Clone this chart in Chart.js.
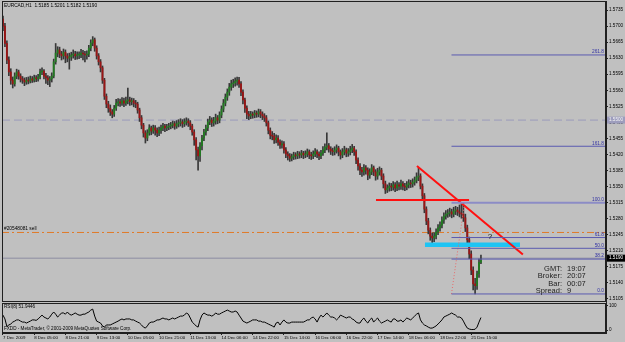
<!DOCTYPE html>
<html><head><meta charset="utf-8">
<script src="https://cdn.jsdelivr.net/npm/chart.js@4.4.1/dist/chart.umd.min.js"></script>
<style>
html,body{margin:0;padding:0;background:#c0c0c0;width:625px;height:342px;overflow:hidden;}
#wrapMain{position:absolute;left:0;top:0;width:625px;height:303px;}
#wrapRsi{position:absolute;left:0;top:303px;width:625px;height:39px;}
canvas{display:block;}
</style></head><body>
<div id="wrapMain"><canvas id="main" width="625" height="303"></canvas></div>
<div id="wrapRsi"><canvas id="rsi" width="625" height="39"></canvas></div>
<script>
// ---------------- DATA ----------------
const chartTitle = 'EURCAD,H1  1.5185 1.5201 1.5182 1.5190';
const timeLabels = ['7 Dec 2009','8 Dec 05:00','8 Dec 21:00','9 Dec 13:00','10 Dec 05:00','10 Dec 21:00','11 Dec 13:00','14 Dec 06:00','14 Dec 22:00','15 Dec 14:00','16 Dec 06:00','16 Dec 22:00','17 Dec 14:00','18 Dec 06:00','18 Dec 22:00','21 Dec 15:00'];
const barsPerLabel = 16;
const priceTicks = [1.5105,1.5140,1.5175,1.5210,1.5245,1.5280,1.5315,1.5350,1.5385,1.5420,1.5455,1.5490,1.5525,1.5560,1.5595,1.5630,1.5665,1.5700,1.5735];
const rsiTicks = [0, 100];
const firstOpen = 1.5715;
const closes = [
1.5700,1.5662,1.5626,1.5600,1.5582,1.5574,1.5591,1.5600,1.5591,1.5585,
1.5582,1.5578,1.5582,1.5580,1.5585,1.5582,1.5587,1.5585,1.5589,1.5600,
1.5602,1.5591,1.5587,1.5582,1.5585,1.5591,1.5622,1.5641,1.5648,1.5639,
1.5635,1.5643,1.5635,1.5630,1.5633,1.5637,1.5639,1.5635,1.5637,1.5637,
1.5641,1.5639,1.5637,1.5639,1.5652,1.5663,1.5670,1.5652,1.5635,1.5622,
1.5609,1.5582,1.5547,1.5530,1.5521,1.5513,1.5508,1.5521,1.5532,1.5535,
1.5532,1.5537,1.5532,1.5537,1.5539,1.5535,1.5537,1.5532,1.5530,1.5517,
1.5500,1.5484,1.5467,1.5456,1.5467,1.5478,1.5471,1.5478,1.5473,1.5467,
1.5473,1.5478,1.5482,1.5478,1.5480,1.5482,1.5484,1.5487,1.5482,1.5487,
1.5489,1.5491,1.5487,1.5491,1.5493,1.5489,1.5482,1.5469,1.5452,1.5430,
1.5417,1.5439,1.5456,1.5469,1.5478,1.5491,1.5495,1.5489,1.5493,1.5500,
1.5495,1.5506,1.5519,1.5532,1.5545,1.5556,1.5567,1.5574,1.5576,1.5580,
1.5582,1.5574,1.5556,1.5539,1.5521,1.5508,1.5504,1.5508,1.5506,1.5510,
1.5508,1.5513,1.5508,1.5504,1.5500,1.5489,1.5473,1.5462,1.5460,1.5452,
1.5456,1.5447,1.5441,1.5443,1.5430,1.5421,1.5417,1.5412,1.5415,1.5419,
1.5417,1.5421,1.5419,1.5423,1.5419,1.5421,1.5426,1.5419,1.5417,1.5421,
1.5426,1.5421,1.5417,1.5423,1.5430,1.5436,1.5439,1.5432,1.5428,1.5426,
1.5430,1.5434,1.5426,1.5419,1.5426,1.5430,1.5423,1.5426,1.5430,1.5434,
1.5426,1.5408,1.5395,1.5386,1.5382,1.5391,1.5386,1.5375,1.5382,1.5391,
1.5382,1.5373,1.5382,1.5386,1.5373,1.5356,1.5343,1.5347,1.5351,1.5349,
1.5354,1.5347,1.5354,1.5351,1.5356,1.5351,1.5349,1.5354,1.5358,1.5356,
1.5360,1.5364,1.5371,1.5373,1.5351,1.5330,1.5301,1.5275,1.5255,1.5242,
1.5238,1.5242,1.5251,1.5260,1.5266,1.5277,1.5286,1.5290,1.5292,1.5295,
1.5290,1.5297,1.5299,1.5295,1.5292,1.5290,1.5282,1.5260,1.5234,1.5203,
1.5168,1.5138,1.5134,1.5160,1.5185,1.5190];
const highs = [
1.5722,1.5706,1.5668,1.5633,1.5607,1.5589,1.5598,1.5606,1.5604,1.5596,
1.5590,1.5587,1.5588,1.5589,1.5591,1.5590,1.5593,1.5592,1.5595,1.5606,
1.5609,1.5605,1.5597,1.5592,1.5590,1.5598,1.5628,1.5662,1.5655,1.5654,
1.5645,1.5650,1.5648,1.5640,1.5641,1.5643,1.5648,1.5645,1.5644,1.5644,
1.5649,1.5647,1.5645,1.5646,1.5658,1.5670,1.5677,1.5674,1.5657,1.5640,
1.5627,1.5613,1.5586,1.5552,1.5536,1.5528,1.5518,1.5527,1.5540,1.5542,
1.5541,1.5544,1.5543,1.5545,1.5565,1.5545,1.5543,1.5542,1.5538,1.5534,
1.5521,1.5505,1.5488,1.5472,1.5474,1.5485,1.5482,1.5484,1.5483,1.5478,
1.5480,1.5484,1.5488,1.5486,1.5486,1.5488,1.5490,1.5493,1.5492,1.5494,
1.5496,1.5498,1.5496,1.5498,1.5500,1.5498,1.5494,1.5486,1.5474,1.5457,
1.5436,1.5446,1.5462,1.5475,1.5484,1.5497,1.5503,1.5500,1.5501,1.5508,
1.5505,1.5513,1.5526,1.5540,1.5552,1.5563,1.5575,1.5582,1.5584,1.5587,
1.5589,1.5588,1.5579,1.5561,1.5543,1.5526,1.5514,1.5514,1.5513,1.5516,
1.5515,1.5519,1.5518,1.5513,1.5509,1.5505,1.5493,1.5478,1.5470,1.5466,
1.5463,1.5461,1.5452,1.5450,1.5448,1.5435,1.5426,1.5422,1.5421,1.5425,
1.5424,1.5427,1.5426,1.5429,1.5427,1.5428,1.5432,1.5430,1.5425,1.5428,
1.5433,1.5430,1.5426,1.5429,1.5437,1.5443,1.5467,1.5444,1.5437,1.5434,
1.5437,1.5441,1.5438,1.5430,1.5433,1.5438,1.5434,1.5433,1.5438,1.5442,
1.5438,1.5430,1.5413,1.5400,1.5392,1.5398,1.5396,1.5391,1.5389,1.5398,
1.5395,1.5387,1.5390,1.5393,1.5390,1.5378,1.5362,1.5354,1.5358,1.5357,
1.5361,1.5359,1.5362,1.5359,1.5364,1.5361,1.5357,1.5361,1.5365,1.5364,
1.5367,1.5371,1.5380,1.5390,1.5378,1.5356,1.5335,1.5306,1.5281,1.5260,
1.5249,1.5250,1.5258,1.5267,1.5273,1.5284,1.5293,1.5298,1.5300,1.5303,
1.5301,1.5305,1.5307,1.5305,1.5310,1.5312,1.5315,1.5290,1.5266,1.5240,
1.5210,1.5175,1.5150,1.5166,1.5192,1.5201];
const lows = [
1.5690,1.5655,1.5618,1.5592,1.5573,1.5565,1.5569,1.5585,1.5584,1.5578,
1.5575,1.5570,1.5573,1.5574,1.5576,1.5577,1.5578,1.5579,1.5580,1.5585,
1.5594,1.5585,1.5575,1.5572,1.5568,1.5578,1.5587,1.5617,1.5633,1.5631,
1.5626,1.5628,1.5620,1.5622,1.5606,1.5625,1.5630,1.5627,1.5628,1.5629,
1.5631,1.5626,1.5622,1.5628,1.5633,1.5646,1.5657,1.5645,1.5628,1.5615,
1.5600,1.5575,1.5540,1.5522,1.5512,1.5505,1.5500,1.5503,1.5516,1.5526,
1.5525,1.5527,1.5524,1.5527,1.5530,1.5527,1.5528,1.5524,1.5522,1.5510,
1.5492,1.5476,1.5458,1.5445,1.5450,1.5462,1.5463,1.5466,1.5462,1.5459,
1.5461,1.5466,1.5472,1.5470,1.5472,1.5474,1.5476,1.5478,1.5475,1.5477,
1.5480,1.5482,1.5479,1.5481,1.5484,1.5481,1.5474,1.5462,1.5440,1.5408,
1.5386,1.5405,1.5430,1.5450,1.5462,1.5472,1.5485,1.5481,1.5482,1.5486,
1.5487,1.5489,1.5500,1.5513,1.5526,1.5538,1.5549,1.5560,1.5566,1.5569,
1.5571,1.5566,1.5548,1.5530,1.5512,1.5498,1.5496,1.5498,1.5499,1.5500,
1.5501,1.5502,1.5500,1.5496,1.5492,1.5482,1.5465,1.5454,1.5452,1.5444,
1.5445,1.5440,1.5433,1.5434,1.5423,1.5413,1.5408,1.5405,1.5406,1.5409,
1.5410,1.5411,1.5412,1.5413,1.5411,1.5413,1.5415,1.5411,1.5409,1.5411,
1.5415,1.5413,1.5409,1.5411,1.5418,1.5424,1.5430,1.5425,1.5420,1.5418,
1.5419,1.5423,1.5417,1.5410,1.5413,1.5419,1.5415,1.5416,1.5419,1.5424,
1.5418,1.5400,1.5386,1.5376,1.5372,1.5375,1.5377,1.5365,1.5368,1.5376,
1.5374,1.5364,1.5366,1.5375,1.5365,1.5347,1.5335,1.5337,1.5340,1.5341,
1.5342,1.5339,1.5341,1.5343,1.5344,1.5343,1.5341,1.5343,1.5347,1.5348,
1.5349,1.5353,1.5358,1.5363,1.5345,1.5322,1.5293,1.5267,1.5247,1.5233,
1.5227,1.5230,1.5236,1.5245,1.5253,1.5260,1.5270,1.5279,1.5283,1.5285,
1.5282,1.5284,1.5289,1.5287,1.5284,1.5281,1.5274,1.5252,1.5225,1.5193,
1.5158,1.5125,1.5116,1.5126,1.5152,1.5182];
const rsiValues = [
62,46,14,21,25,33,37,42,42,37,
33,33,29,33,37,42,42,40,46,54,
62,54,50,46,54,66,75,66,54,62,
71,71,66,75,66,62,66,71,66,62,
62,66,66,71,75,83,87,58,37,33,
29,17,12,21,21,21,25,29,33,37,
42,46,42,46,46,46,42,42,37,33,
29,21,12,8,17,29,33,33,37,42,
42,46,50,46,46,42,46,50,46,50,
54,58,58,62,71,66,50,33,25,17,
12,42,62,71,66,62,62,58,62,71,
66,66,71,75,79,83,79,75,75,79,
75,62,50,37,33,29,33,37,42,42,
42,37,37,33,33,29,25,21,17,12,
29,33,21,33,42,33,29,29,33,33,
33,33,33,33,33,37,42,42,50,54,
46,33,50,62,54,62,71,62,54,54,
50,42,50,62,58,54,50,54,54,46,
42,33,29,29,42,50,37,29,42,50,
33,42,50,37,29,33,37,42,37,33,
46,46,37,37,42,33,42,50,46,42,
50,58,66,71,42,29,21,17,12,8,
8,12,17,25,33,42,54,58,62,66,
71,66,62,54,54,50,37,21,8,4,
2,2,3,12,33,51.9446];
const rsiLabel = 'RSI(8) 51.9446';
const copyrightText = 'FXDD - MetaTrader, \u00A9 2001-2009 MetaQuotes Software Corp.';
// drawn objects (bar index, price)
const trendLine = [{x:212.2, y:1.5395},{x:266.5, y:1.5202}];
const resistanceLine = [{x:191.2, y:1.5321},{x:238.9, y:1.5321}];
const supportZone = [{x:216.3, y:1.52233},{x:265.0, y:1.52233}];
const fibStart = {x:229.9, y:1.5116};
const fibEnd = {x:236.6, y:1.5315};
const fibLevels = [0, 38.2, 50, 61.8, 100, 161.8, 261.8];
const fibText = ['0.0','38.2','50.0','61.8','100.0','161.8','261.8'];
const dashedLevel = 1.5495, dashedLevelText = '1.5500';
const orderLevel = 1.5250, orderText = '#20548081 sell';
const bidLevel = 1.5194, bidText = '1.5190';
const questionMark = {x:249.6, y:1.5241, text:'?'};
const infoLabels = ['GMT:','Broker:','Bar:','Spread:'];
const infoValues = ['19:07','20:07','00:07','9'];

// ---------------- SETUP ----------------
const xMin = -0.51, xMax = 309.1;
const yMin = 1.509846, yMax = 1.575462;
const bars = closes.map((c,i)=>i);
const opens = closes.map((c,i)=> i===0 ? firstOpen : closes[i-1]);
const FONT = '"Liberation Sans",Arial,sans-serif';
const bull = '#217a21', bear = '#9a1515', wick = '#383838';

const framePlugin = {
  id:'frame',
  afterDraw(chart){
    const {ctx, chartArea:a} = chart;
    ctx.save(); ctx.strokeStyle = '#202020'; ctx.lineWidth = 1;
    ctx.strokeRect(a.left+0.5, a.top+0.5, a.right-a.left-1, a.bottom-a.top-1);
    ctx.restore();
  }
};

function lineDs(points, color, width, dash, order){
  return {type:'line', data:points, borderColor:color, borderWidth:width, borderDash:dash||[],
          pointRadius:0, fill:false, tension:0, order:order, borderCapStyle:'butt'};
}
const fibRange = fibEnd.y - fibStart.y;
const fibDatasets = fibLevels.map((lv,k)=>{
  const p = fibStart.y + fibRange*lv/100;
  const strong = (lv===100);
  return lineDs([{x:fibStart.x,y:p},{x:xMax,y:p}], strong ? '#8c8cc6' : '#5a5ab0', strong ? 2 : 1, [], 1);
});

const textPlugin = {
  id:'texts',
  afterDatasetsDraw(chart){
    const {ctx, scales:{x, y}, chartArea:a} = chart;
    ctx.save();
    ctx.textBaseline = 'middle';
    ctx.font = '4.8px ' + FONT; ctx.fillStyle = '#000'; ctx.textAlign = 'left';
    ctx.fillText(chartTitle, a.left+2, a.top+5);
    ctx.fillText(orderText, a.left+2, y.getPixelForValue(orderLevel)-4);
    ctx.fillStyle = '#3434a4'; ctx.textAlign = 'right';
    fibLevels.forEach((lv,k)=>{
      const p = fibStart.y + fibRange*lv/100;
      ctx.fillText(fibText[k], a.right-2, y.getPixelForValue(p)-3);
    });
    ctx.fillStyle = '#111'; ctx.textAlign = 'center'; ctx.font = '8px "Liberation Sans",sans-serif';
    ctx.fillText(questionMark.text, x.getPixelForValue(questionMark.x), y.getPixelForValue(questionMark.y));
    ctx.font = '7.5px "Liberation Sans",sans-serif'; ctx.fillStyle = '#222';
    const rows = [269, 276.3, 283.6, 291];
    infoLabels.forEach((l,k)=>{
      ctx.textAlign = 'right'; ctx.fillText(l, 562, rows[k]);
      ctx.textAlign = 'left'; ctx.fillText(infoValues[k], 567, rows[k]);
    });
    ctx.font = '4.6px ' + FONT; ctx.textAlign = 'left';
    const boxes = [[dashedLevel, dashedLevelText, '#9d9dbd', '#f4f4f4'], [bidLevel, bidText, '#000', '#fff']];
    boxes.forEach(([p, t, bg, fg])=>{
      const yy = y.getPixelForValue(p);
      ctx.fillStyle = bg; ctx.fillRect(a.right+1, yy-3.5, 18, 7);
      ctx.fillStyle = fg; ctx.fillText(t, a.right+3, yy);
    });
    ctx.restore();
  }
};

new Chart(document.getElementById('main'), {
  type:'bar',
  data:{ datasets:[
    lineDs([{x:xMin,y:dashedLevel},{x:xMax,y:dashedLevel}], '#9a9aba', 1, [8,4], 30),
    lineDs([{x:xMin,y:orderLevel},{x:xMax,y:orderLevel}], '#e07a28', 1, [7,3,2,3], 30),
    lineDs([{x:xMin,y:bidLevel},{x:xMax,y:bidLevel}], '#8c8ca2', 1, [], 30),
    {type:'bar', data: bars.map(i=>({x:i, y:[lows[i], highs[i]]})), backgroundColor: wick,
     barThickness:1, grouped:false, order:20},
    {type:'bar', data: bars.map(i=>({x:i, y:[opens[i], closes[i]]})),
     backgroundColor: bars.map(i=> closes[i]>=opens[i] ? bull : bear),
     barThickness:1.2, minBarLength:1, grouped:false, order:10},
    ...fibDatasets,
    lineDs([fibStart, fibEnd], '#e86a6a', 1, [1,2], 1),
    lineDs(supportZone, '#1ec4f4', 4.5, [], 2),
    lineDs(resistanceLine, '#ff1010', 2, [], 1),
    lineDs(trendLine, '#ff1010', 2, [], 1)
  ]},
  options:{
    responsive:false, animation:false, events:[],
    layout:{padding:{left:2, top:1, right:0, bottom:1}},
    plugins:{legend:{display:false}, tooltip:{enabled:false}},
    scales:{
      x:{type:'linear', min:xMin, max:xMax, display:false, offset:false},
      y:{type:'linear', position:'right', min:yMin, max:yMax,
         afterBuildTicks: s=>{ s.ticks = priceTicks.map(v=>({value:v})); },
         afterFit: s=>{ s.width = 19; s.paddingTop = 0; s.paddingBottom = 0; },
         ticks:{ callback: v=> Number(v).toFixed(4), font:{family:FONT, size:4.6}, color:'#000', padding:1, autoSkip:false },
         grid:{ drawOnChartArea:false, drawTicks:true, tickLength:2, color:'#202020' },
         border:{ display:true, color:'#202020' } }
    }
  },
  plugins:[framePlugin, textPlugin]
});

const rsiText = {
  id:'rsiText',
  afterDatasetsDraw(chart){
    const {ctx, chartArea:a} = chart;
    ctx.save(); ctx.textBaseline='middle'; ctx.textAlign='left';
    ctx.font = '4.6px ' + FONT; ctx.fillStyle = '#000';
    ctx.fillText(rsiLabel, a.left+2, a.top+4);
    ctx.fillText(copyrightText, a.left+2, a.bottom-4);
    ctx.restore();
  }
};

new Chart(document.getElementById('rsi'), {
  type:'line',
  data:{ datasets:[{ data: rsiValues.map((v,i)=>({x:i, y:v})), borderColor:'#000', borderWidth:1,
                     pointRadius:0, tension:0, fill:false }]},
  options:{
    responsive:false, animation:false, events:[],
    layout:{padding:{left:2, top:0, right:0, bottom:0}},
    plugins:{legend:{display:false}, tooltip:{enabled:false}},
    scales:{
      x:{type:'linear', min:xMin, max:xMax, position:'bottom',
         afterBuildTicks: s=>{ s.ticks = timeLabels.map((t,k)=>({value:k*barsPerLabel})); },
         afterFit: s=>{ s.height = 9; s.paddingLeft = 0; s.paddingRight = 0; },
         ticks:{ callback:(v,i)=>timeLabels[i], align:'start', maxRotation:0, minRotation:0, autoSkip:false,
                 padding:0, font:{family:FONT, size:4.4}, color:'#000' },
         grid:{ drawOnChartArea:false, tickLength:2, color:'#202020' },
         border:{ display:true, color:'#202020' } },
      y:{type:'linear', position:'right', min:-12.5, max:112.5,
         afterBuildTicks: s=>{ s.ticks = rsiTicks.map(v=>({value:v})); },
         afterFit: s=>{ s.width = 19; s.paddingTop = 0; s.paddingBottom = 0; },
         ticks:{ callback: v=>String(v), font:{family:FONT, size:4.6}, color:'#000', padding:1, autoSkip:false },
         grid:{ drawOnChartArea:false, tickLength:2, color:'#202020' },
         border:{ display:true, color:'#202020' } }
    }
  },
  plugins:[framePlugin, rsiText]
});
</script>
</body></html>
